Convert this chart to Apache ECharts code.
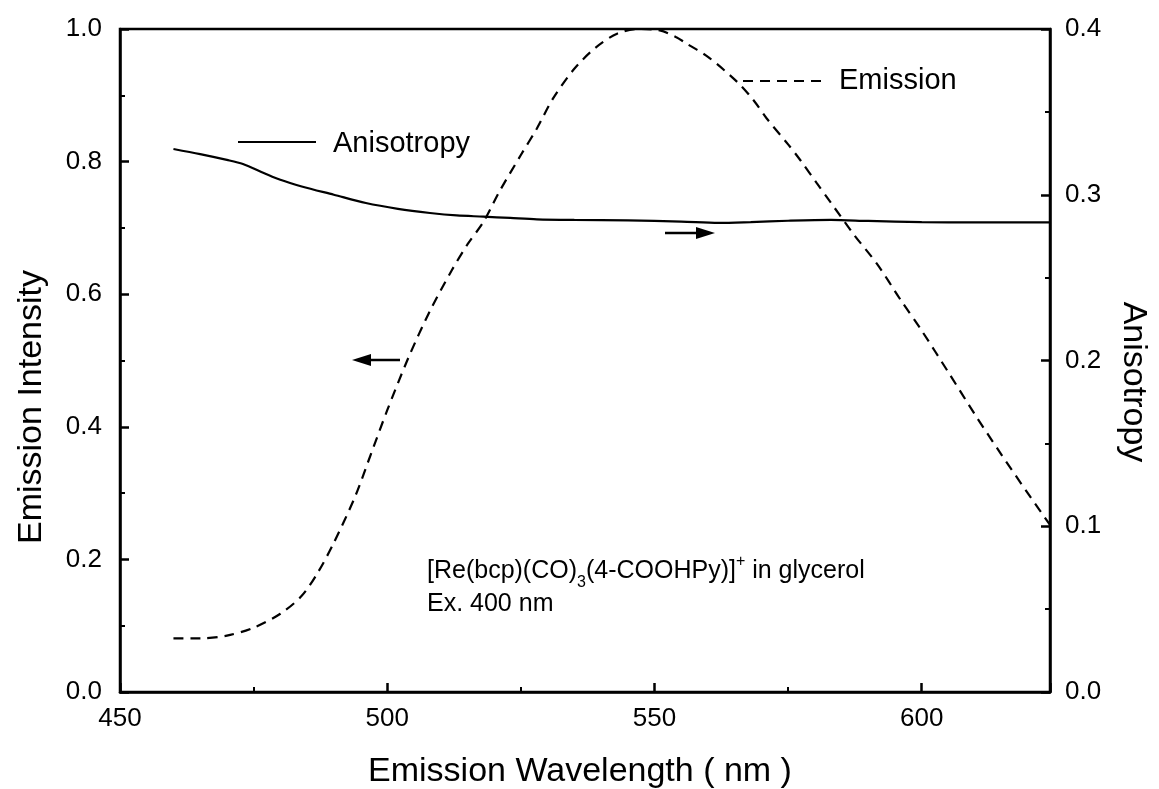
<!DOCTYPE html>
<html>
<head>
<meta charset="utf-8">
<script src="https://cdn.jsdelivr.net/npm/echarts@6/dist/echarts.min.js"></script>
<style>
html,body{margin:0;padding:0;background:#fff;}
#chart{width:1159px;height:789px;}
</style>
</head>
<body>
<div id="chart"></div>
<script>
// Emission intensity (left axis)
var emissionWavelength = [460,465,470,475,480,484,487,490,494,497,500,504,508,512,515,518,521,525,528,531,535,539,543,547,551,554,556,560,565.5,568.5,571,575,577.3,580.4,583,587.3,591.7,596,600,605,610,615,620,624];
var emissionValue = [0.081,0.081,0.085,0.097,0.118,0.145,0.18,0.225,0.295,0.36,0.425,0.505,0.575,0.635,0.675,0.709,0.755,0.81,0.85,0.895,0.94,0.972,0.993,1.0,0.998,0.988,0.978,0.958,0.92,0.893,0.865,0.826,0.802,0.767,0.738,0.69,0.645,0.592,0.545,0.482,0.418,0.357,0.298,0.252];
// Anisotropy (right axis)
var anisoWavelength = [460,465,470,473,477,480,484,490,496,502,508,513,518,523,528,535,545,555,562,568,575,583,590,600,610,624];
var anisoValue = [0.3276,0.3245,0.321,0.3185,0.313,0.309,0.305,0.300,0.295,0.2915,0.289,0.2875,0.2868,0.286,0.2852,0.2848,0.2845,0.2838,0.283,0.2835,0.2843,0.2848,0.2842,0.2835,0.2833,0.2833];
var xTicks = [450,500,550,600];

function pairs(xs, ys){ return xs.map(function(x,i){ return [x, ys[i]]; }); }

var FONT = '"Liberation Sans", Arial, sans-serif';
var chart = echarts.init(document.getElementById('chart'), null, {renderer:'canvas'});
var axisCommon = {
  axisLine:{show:true, lineStyle:{color:'#000', width:2.5}},
  axisTick:{show:true, inside:true, length:9, lineStyle:{color:'#000', width:2.5}},
  minorTick:{show:true, splitNumber:2, length:5, lineStyle:{color:'#000', width:2}},
  splitLine:{show:false},
  axisLabel:{color:'#000', fontFamily:FONT, fontSize:26, margin:18}
};
var option = {
  animation:false,
  backgroundColor:'#fff',
  grid:{left:120, right:109, top:29, bottom:97, show:true, borderColor:'#000', borderWidth:2.5},
  xAxis:[Object.assign({}, axisCommon, {
    type:'value', min:450, max:624, interval:50,
    axisLabel:Object.assign({}, axisCommon.axisLabel, {showMaxLabel:false, margin:14,
      formatter:function(v){ return xTicks.indexOf(v) >= 0 ? String(v) : ''; }})
  })],
  yAxis:[
    Object.assign({}, axisCommon, {type:'value', min:0, max:1, interval:0.2, position:'left',
      axisLabel:Object.assign({}, axisCommon.axisLabel, {formatter:function(v){return v.toFixed(1);}})}),
    Object.assign({}, axisCommon, {type:'value', min:0, max:0.4, interval:0.1, position:'right',
      axisLabel:Object.assign({}, axisCommon.axisLabel, {margin:15, formatter:function(v){return v.toFixed(1);}})})
  ],
  series:[
    {type:'line', name:'Emission', xAxisIndex:0, yAxisIndex:0, data:pairs(emissionWavelength, emissionValue),
      smooth:0.3, showSymbol:false, lineStyle:{color:'#000', width:2.2, type:[10,7]}},
    {type:'line', name:'Anisotropy', xAxisIndex:0, yAxisIndex:1, data:pairs(anisoWavelength, anisoValue),
      smooth:0.3, showSymbol:false, lineStyle:{color:'#000', width:2.2}}
  ],
  graphic:[
    {type:'text', x:580, y:772, style:{text:'Emission Wavelength ( nm )', font:'34px '+FONT, fill:'#000', align:'center', verticalAlign:'middle'}},
    {type:'text', x:32, y:407, rotation:Math.PI/2, style:{text:'Emission Intensity', font:'34px '+FONT, fill:'#000', align:'center', verticalAlign:'middle'}},
    {type:'text', x:1133, y:382, rotation:-Math.PI/2, style:{text:'Anisotropy', font:'34px '+FONT, fill:'#000', align:'center', verticalAlign:'middle'}},
    // legend entries
    {type:'line', shape:{x1:238, y1:142, x2:316, y2:142}, style:{stroke:'#000', lineWidth:2}},
    {type:'text', x:333, y:144, style:{text:'Anisotropy', font:'29px '+FONT, fill:'#000', verticalAlign:'middle'}},
    {type:'line', shape:{x1:743, y1:81, x2:822, y2:81}, style:{stroke:'#000', lineWidth:2, lineDash:[10,7]}},
    {type:'text', x:839, y:81, style:{text:'Emission', font:'29px '+FONT, fill:'#000', verticalAlign:'middle'}},
    // arrows
    {type:'line', shape:{x1:665, y1:233, x2:700, y2:233}, style:{stroke:'#000', lineWidth:2.5}},
    {type:'polygon', shape:{points:[[715,233],[696,227],[696,239]]}, style:{fill:'#000'}},
    {type:'line', shape:{x1:367, y1:360, x2:400, y2:360}, style:{stroke:'#000', lineWidth:2.5}},
    {type:'polygon', shape:{points:[[352,360],[371,354],[371,366]]}, style:{fill:'#000'}},
    // annotation
    {type:'text', x:427, y:569, style:{
      text:'{n|[Re(bcp)(CO)}{sub|3}{n|(4-COOHPy)]}{sup|+}{n| in glycerol}',
      verticalAlign:'middle',
      rich:{
        n:{font:'25px '+FONT, fill:'#000', verticalAlign:'bottom', lineHeight:30},
        sub:{font:'16px '+FONT, fill:'#000', padding:[0,0,-7,0], verticalAlign:'bottom', lineHeight:30},
        sup:{font:'16px '+FONT, fill:'#000', padding:[0,0,14,0], verticalAlign:'bottom', lineHeight:30}
      }}},
    {type:'text', x:427, y:604, style:{text:'Ex. 400 nm', font:'25px '+FONT, fill:'#000', verticalAlign:'middle'}}
  ]
};
chart.setOption(option);
</script>
</body>
</html>
